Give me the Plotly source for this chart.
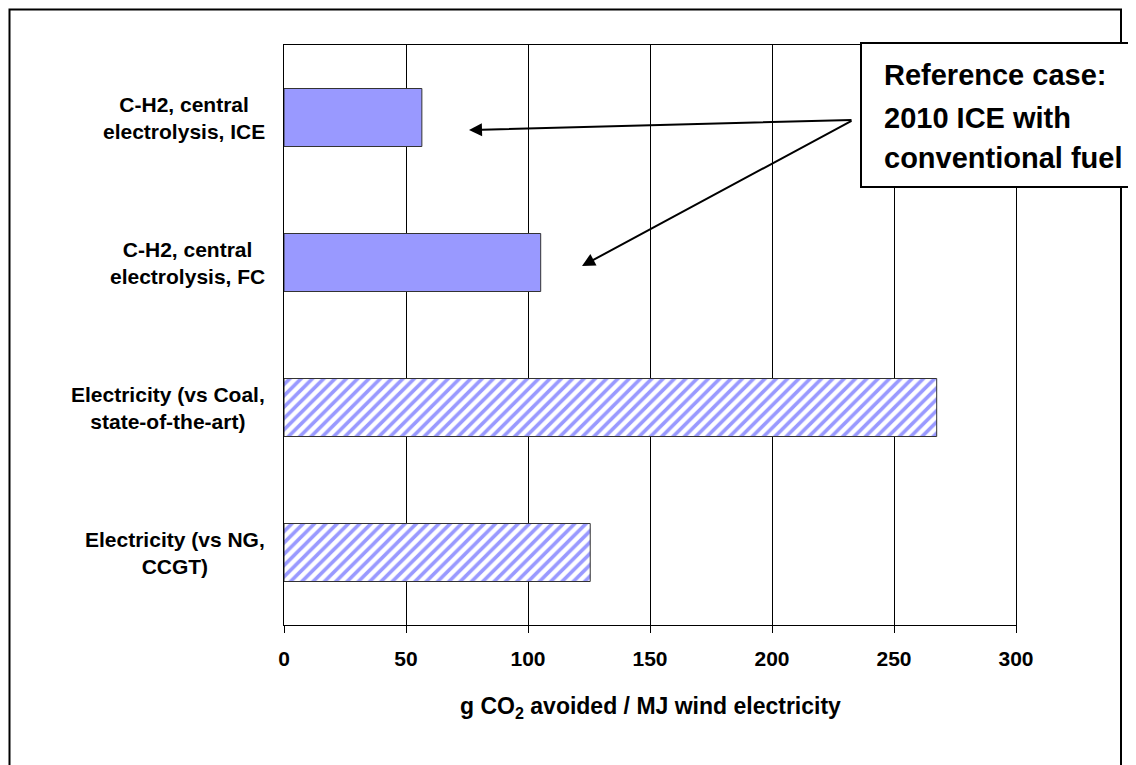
import plotly.graph_objects as go

categories = ["C-H2, central<br>electrolysis, ICE",
              "C-H2, central<br>electrolysis, FC",
              "Electricity (vs Coal,<br>state-of-the-art)",
              "Electricity (vs NG,<br>CCGT)"]
values = [56.5, 105.2, 267.5, 125.5]
patterns = ["", "", "/", "/"]
x_ticks = [0, 50, 100, 150, 200, 250, 300]
box_lines = ["Reference case:", "2010 ICE with", "conventional fuel"]
x_title = "g CO<sub>2</sub> avoided / MJ wind electricity"

W, H = 1136, 765
OFF = 8  # page body margin
L, R, T, B = 284, 1016, 45, 625  # plot area in page pixels


def px(x):
    return (x - L) / (R - L)


def py(y):
    return (B - y) / (B - T)


FONT = "Liberation Sans, Arial, sans-serif"

fig = go.Figure()
fig.add_trace(go.Bar(
    y=categories, x=values, orientation="h", width=0.4,
    marker=dict(color="#9999FF", line=dict(color="#333333", width=1),
                pattern=dict(shape=patterns, bgcolor="white",
                             size=8, solidity=0.45, fillmode="replace")),
    showlegend=False, hoverinfo="x+y"))

annotations = []
for c in categories:
    annotations.append(dict(x=px(267), xref="paper", y=c, yref="y", text=c,
                            showarrow=False, xanchor="right", yanchor="middle",
                            align="center",
                            font=dict(family=FONT, size=21, color="black", weight="bold")))

annotations.append(dict(x=0.5, xref="paper", y=py(707), yref="paper", text=x_title,
                        showarrow=False, xanchor="center", yanchor="middle",
                        font=dict(family=FONT, size=23, color="black", weight="bold")))

# arrows (tail at the box, head pointing at bars)
tail = (853, 120)
for (hx, hy) in [(469, 130), (582, 266)]:
    annotations.append(dict(x=px(hx), y=py(hy), xref="paper", yref="paper",
                            ax=tail[0] - hx, ay=tail[1] - hy,
                            text="", showarrow=True, arrowhead=2, arrowsize=1.3,
                            arrowwidth=2, arrowcolor="black", standoff=0))

for i, t in enumerate(box_lines):
    yy = [75, 118, 158][i]
    annotations.append(dict(x=px(882), y=py(yy), xref="paper", yref="paper", text=t,
                            showarrow=False, xanchor="left", yanchor="middle",
                            font=dict(family=FONT, size=29, color="black", weight="bold")))

shapes = [
    dict(type="rect", xref="paper", yref="paper", x0=px(9.5), x1=px(1121),
         y0=py(790), y1=py(9.5), line=dict(color="black", width=2), layer="above"),
    dict(type="rect", xref="paper", yref="paper", x0=px(861), x1=px(1160),
         y0=py(187), y1=py(43), line=dict(color="black", width=2),
         fillcolor="white", layer="above"),
]

fig.update_layout(
    width=W, height=H,
    margin=dict(l=L - OFF, r=W - (R - OFF), t=T - OFF, b=H - (B - OFF), pad=0),
    paper_bgcolor="white", plot_bgcolor="white",
    bargap=0.6,
    xaxis=dict(range=[0, 300], tickvals=x_ticks, ticks="outside", ticklen=7,
               tickcolor="black", showgrid=True, gridcolor="black", gridwidth=1,
               showline=True, linecolor="black", linewidth=1, mirror=True,
               zeroline=False, ticklabelstandoff=8,
               tickfont=dict(family=FONT, size=21, color="black", weight="bold")),
    yaxis=dict(autorange="reversed", showticklabels=False, ticks="",
               showgrid=False, showline=True, linecolor="black", linewidth=1,
               mirror=True, zeroline=False),
    annotations=annotations, shapes=shapes,
)

fig.write_html("out.html")
